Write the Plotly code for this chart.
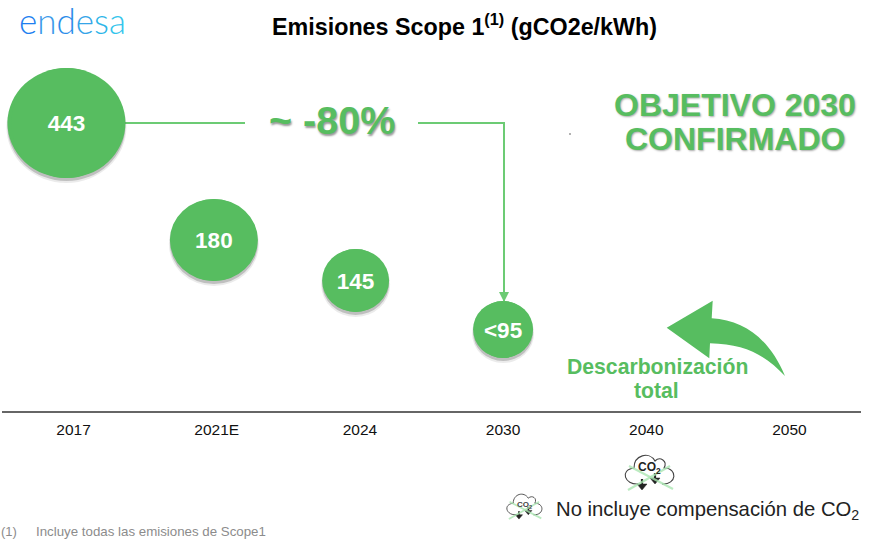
import plotly.graph_objects as go

years = ["2017", "2021E", "2024", "2030", "2040", "2050"]
year_slots = [0, 1, 2, 3, 4, 5]
bubble_slots = [-0.05, 0.98, 1.97, 3.0]   # bubbles sit slightly off their year ticks in the picture
bubble_labels = ["443", "180", "145", "<95"]
bubble_height = [288, 171, 130.5, 81.5]   # (not drawn to a linear value scale)
bubble_width = [118, 88, 67, 60]
bubble_tall = [110, 82, 63, 57]

W, H = 871, 540
GREEN = "#57BD60"
LINE = "#6CCB74"
FONT = "Liberation Sans, Arial, sans-serif"


def X(p):
    return p / W


def Y(p):
    return 1 - p / H


def path(pts):
    out = []
    for cmd, *xy in pts:
        coords = " ".join(f"{X(xy[i]):.5f},{Y(xy[i + 1]):.5f}" for i in range(0, len(xy), 2))
        out.append(f"{cmd} {coords}")
    return " ".join(out)


def shape_path(pts, **kw):
    return dict(type="path", xref="paper", yref="paper", path=path(pts), layer="above", **kw)


def seg(x0, y0, x1, y1, color=LINE, width=2):
    return dict(type="line", xref="paper", yref="paper", x0=X(x0), y0=Y(y0), x1=X(x1), y1=Y(y1),
                line=dict(color=color, width=width), layer="below")


def ellipse(xv, yv, w, h, color, dy=0):
    return dict(type="circle", xref="x", yref="y", xsizemode="pixel", ysizemode="pixel",
                xanchor=xv, yanchor=yv, x0=-w / 2, x1=w / 2, y0=-h / 2 - dy, y1=h / 2 - dy,
                fillcolor=color, line=dict(width=0), layer="below")


def note(text, x, y, size, color="#000000", bold=False, anchor="center", shadow=None, family=FONT, weight=None):
    font = dict(family=family, size=size, color=color)
    if bold:
        font["weight"] = "bold"
    if weight:
        font["weight"] = weight
    if shadow:
        font["shadow"] = shadow
    return dict(text=text, x=X(x), y=Y(y), xref="paper", yref="paper", xanchor=anchor, yanchor="middle",
                showarrow=False, font=font)


def cloud(cx, cy, s, lw):
    p = lambda x, y: (cx + x * s, cy + y * s)
    shapes = []
    outline = [
        ("M", *p(-11, 8)),
        ("C", *p(-24, 9), *p(-30, -6), *p(-15, -8)),
        ("C", *p(-15, -21), *p(0, -25), *p(6, -15)),
        ("C", *p(11, -20), *p(19, -15), *p(15, -8)),
        ("C", *p(29, -8), *p(28, 9), *p(13, 8)),
    ]
    shapes.append(shape_path(outline, line=dict(color="#444444", width=lw)))
    for ax, ay in ((-7, 8), (6, 2)):
        head = [("M", *p(ax - 5, ay)), ("L", *p(ax + 5, ay)), ("L", *p(ax, ay + 6)), ("Z",)]
        shapes.append(shape_path(head, fillcolor="#222222", line=dict(color="#222222", width=0.5)))
        shapes.append(shape_path([("M", *p(ax, ay - 5)), ("L", *p(ax, ay))], line=dict(color="#222222", width=2 * lw)))
    for a, b in (((-20, -10), (24, 13)), ((-21, 14), (21, -10))):
        shapes.append(shape_path([("M", *p(*a)), ("L", *p(*b))], line=dict(color="rgba(170,230,178,0.8)", width=2 * lw)))
    return shapes


fig = go.Figure()

fig.add_trace(go.Scatter(
    x=bubble_slots, y=bubble_height, mode="markers", hoverinfo="skip",
    marker=dict(size=bubble_tall, color=GREEN, opacity=1, line=dict(width=0)),
))
fig.add_trace(go.Scatter(
    x=bubble_slots, y=[h - 2.5 for h in bubble_height], mode="text", text=bubble_labels,
    textposition="middle center",
    textfont=dict(family=FONT, size=22.5, color="#FFFFFF", weight="bold"),
))

shapes = []
for xv, yv, w, h in zip(bubble_slots, bubble_height, bubble_width, bubble_tall):
    shapes.append(ellipse(xv, yv, w + 2, h + 2, "rgba(60,60,60,0.10)", dy=4))
    shapes.append(ellipse(xv, yv, w, h, "rgba(60,60,60,0.25)", dy=3))
    shapes.append(ellipse(xv, yv, w, h, GREEN))

shapes += [
    seg(125, 123, 245, 123),
    seg(418, 123, 505, 123),
    seg(504, 123, 504, 302),
    seg(569.5, 134, 570.5, 134, color="#333333", width=1.5),
    shape_path([
        ("M", 666.7, 327.7), ("L", 712.7, 300.7), ("L", 711.7, 318.3),
        ("C", 745, 320, 770, 340, 785, 376),
        ("C", 765, 355, 745, 344, 710, 343.3),
        ("L", 709.3, 358.3), ("Z",),
    ], fillcolor=GREEN, line=dict(width=0)),
    shape_path([("M", 499, 292), ("L", 509, 292), ("L", 504, 302), ("Z",)], fillcolor=LINE, line=dict(width=0)),
]
shapes += cloud(649, 476, 1.0, 1.1)
shapes += cloud(524, 509, 0.72, 0.9)

logo = "".join(f'<span style="color:{c}">{l}</span>' for l, c in zip(
    "endesa", ["#1E7FF0", "#3D9BEA", "#2C8EEA", "#35A5E8", "#2CB5E8", "#35C5EC"]))

annotations = [
    note(logo, 72, 20, 35, family="Lato, sans-serif", weight=300),
    note("Emisiones Scope 1<sup>(1)</sup> (gCO2e/kWh)", 465, 25, 23.3, bold=True),
    note("~ -80%", 332, 120, 39.5, GREEN, bold=True, shadow="1px 2px 2px #9a9a9a"),
    note("OBJETIVO 2030", 735, 105, 32, GREEN, bold=True, shadow="1px 1px 2px #aaaaaa"),
    note("CONFIRMADO", 735, 139, 32, GREEN, bold=True, shadow="1px 1px 2px #aaaaaa"),
    note("Descarbonización", 657, 366, 21.2, GREEN, bold=True),
    note("total", 656.5, 390, 21.2, GREEN, bold=True),
    note("No incluye compensación de CO<sub>2</sub>", 554, 510, 20.3, "#222222", anchor="left"),
    note("CO<sub>2</sub>", 649, 468, 12, "#222222", bold=True),
    note("CO<sub>2</sub>", 524, 505, 8, "#444444", bold=True),
    note("(1)", -1, 531, 13, "#8c8c8c", anchor="left"),
    note("Incluye todas las emisiones de Scope1", 34, 531, 13.3, "#8c8c8c", anchor="left"),
]

fig.update_layout(
    width=W, height=H, margin=dict(l=0, r=0, t=0, b=0), showlegend=False,
    paper_bgcolor="white", plot_bgcolor="white", shapes=shapes, annotations=annotations,
    xaxis=dict(range=[-0.5, 5.5], tickmode="array", tickvals=year_slots, ticktext=years,
               domain=[2 / W, 861 / W], showgrid=False, zeroline=False, showline=True,
               linecolor="#666666", linewidth=1.5, ticks="", ticklabelstandoff=4,
               tickfont=dict(family=FONT, size=15.5, color="#111111"), fixedrange=True),
    yaxis=dict(range=[0, 411], domain=[1 - 411 / H, 1], visible=False, fixedrange=True),
)

fig.write_html("out.html", config=dict(displayModeBar=False),
               post_script="document.body.style.margin='0';document.body.style.overflow='hidden';")
